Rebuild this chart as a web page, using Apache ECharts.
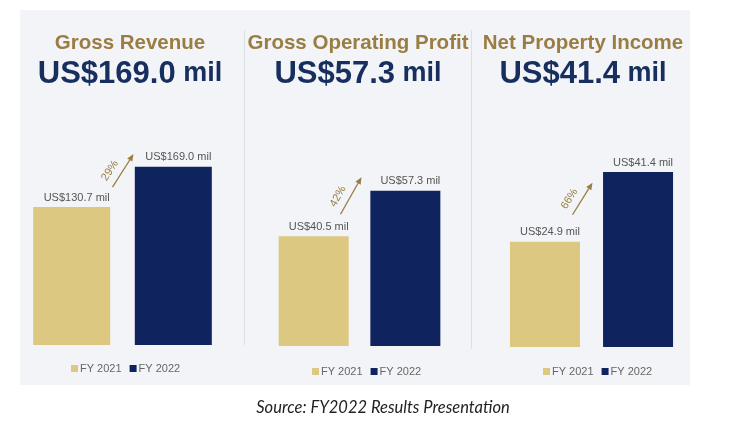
<!DOCTYPE html>
<html lang="en">
<head>
<meta charset="UTF-8">
<title>FY2022 Results</title>
<script src="https://cdn.jsdelivr.net/npm/echarts@6/dist/echarts.min.js"></script>
<style>
  body { margin: 0; background: #ffffff; }
  #main { width: 736px; height: 432px; }
</style>
</head>
<body>
<div id="main"></div>
<script>
// values
var panels = ['Gross Revenue', 'Gross Operating Profit', 'Net Property Income'];
var years = ['FY 2021', 'FY 2022'];
var fy2021 = [130.7, 40.5, 24.9];
var fy2022 = [169.0, 57.3, 41.4];
var growth = ['29%', '42%', '66%'];

// layout per panel
var centers = [130, 358, 583];
var gridLeft = [20, 257, 489];
var gridBottom = [87, 86, 85];
var yMax = [184.8, 72.3, 46.6];
var barW = [77, 70, 70];
var barGap = ['32%', '31%', '33%'];
var legendLeft = [66, 307, 538];
var legendTop = [358, 361, 361];
// arrow: start offset from gap centre / yellow top, then dx, dy
var arrowSet = [[-10, -20, 21, -33], [-19, -22, 21, -37], [-19, -27, 20, -32]];

var gold = '#9a7d42';
var navy = '#172f5e';
var sand = '#dcc881';
var deep = '#0f245f';

var chart = echarts.init(document.getElementById('main'));

var grids = [], xAxes = [], yAxes = [], series = [], titles = [], legends = [];
for (var i = 0; i < panels.length; i++) {
  grids.push({ left: gridLeft[i], width: 205, top: 150, bottom: gridBottom[i] });
  xAxes.push({ type: 'category', gridIndex: i, data: [panels[i]], show: false });
  yAxes.push({ type: 'value', gridIndex: i, min: 0, max: yMax[i], show: false });
  var lbl = {
    show: true, position: 'top', distance: 4, offset: [5, 0],
    color: '#555', fontSize: 11, fontFamily: 'Liberation Sans',
    formatter: function (p) { return 'US$' + p.value.toFixed(1) + ' mil'; }
  };
  series.push({
    name: years[0], type: 'bar', xAxisIndex: i, yAxisIndex: i,
    data: [fy2021[i]], barWidth: barW[i], barGap: barGap[i],
    itemStyle: { color: sand }, label: lbl, silent: true
  });
  series.push({
    name: years[1], type: 'bar', xAxisIndex: i, yAxisIndex: i,
    data: [fy2022[i]], barWidth: barW[i], barGap: barGap[i],
    itemStyle: { color: deep }, label: lbl, silent: true
  });
  titles.push({
    text: '{a|' + panels[i] + '}\n{b|US$' + fy2022[i].toFixed(1) + '}{c| mil}',
    left: centers[i], top: 30, textAlign: 'center', padding: 0,
    textStyle: {
      rich: {
        a: { fontFamily: 'Liberation Sans', fontWeight: 'bold', fontSize: 20.5, color: gold, lineHeight: 26, align: 'center' },
        b: { fontFamily: 'Liberation Sans', fontWeight: 'bold', fontSize: 31, color: navy, lineHeight: 36 },
        c: { fontFamily: 'Liberation Sans', fontWeight: 'bold', fontSize: 27, color: navy, lineHeight: 36 }
      }
    }
  });
  legends.push({
    data: years, left: legendLeft[i], top: legendTop[i],
    icon: 'rect', itemWidth: 7, itemHeight: 7, itemGap: 8,
    selectedMode: false,
    textStyle: { fontFamily: 'Liberation Sans', fontSize: 11, color: '#666', padding: [0, 0, 0, -3] }
  });
}

titles.push({
  text: 'Source: FY2022 Results Presentation',
  left: 383, top: 399, textAlign: 'center', padding: 0,
  textStyle: { fontFamily: 'Lato', fontStyle: 'italic', fontWeight: 'normal', fontSize: 16.5, color: '#222' }
});

var backdrop = [
  { type: 'rect', z: -10, shape: { x: 20, y: 10, width: 670, height: 375 }, style: { fill: '#f2f4f7' } },
  { type: 'line', z: -9, shape: { x1: 244.5, y1: 30, x2: 244.5, y2: 345 }, style: { stroke: '#dcdfe4', lineWidth: 1 } },
  { type: 'line', z: -9, shape: { x1: 471.5, y1: 30, x2: 471.5, y2: 349 }, style: { stroke: '#dcdfe4', lineWidth: 1 } }
];

chart.setOption({
  backgroundColor: '#ffffff',
  animation: false,
  title: titles,
  legend: legends,
  grid: grids,
  xAxis: xAxes,
  yAxis: yAxes,
  series: series,
  graphic: backdrop
});

// growth arrows placed from the bars' pixel positions
var arrows = [];
for (var k = 0; k < panels.length; k++) {
  var mid = chart.convertToPixel({ gridIndex: k }, [0, fy2021[k]]);
  var a = arrowSet[k];
  var x1 = mid[0] + a[0], y1 = mid[1] + a[1];
  var x2 = x1 + a[2], y2 = y1 + a[3];
  var len = Math.sqrt(a[2] * a[2] + a[3] * a[3]);
  var ux = a[2] / len, uy = a[3] / len;
  var nx = uy, ny = -ux; // left-hand normal (up-left)
  var hb = [x2 - ux * 7, y2 - uy * 7];
  arrows.push({
    type: 'line', shape: { x1: x1, y1: y1, x2: hb[0], y2: hb[1] },
    style: { stroke: gold, lineWidth: 1.3 }, silent: true
  });
  arrows.push({
    type: 'polygon',
    shape: { points: [[x2, y2], [hb[0] + nx * 3, hb[1] + ny * 3], [hb[0] - nx * 3, hb[1] - ny * 3]] },
    style: { fill: gold }, silent: true
  });
  var mx = (x1 + x2) / 2 + nx * 11 - ux * 7;
  var my = (y1 + y2) / 2 + ny * 11 - uy * 7;
  arrows.push({
    type: 'text', x: mx, y: my, rotation: Math.atan2(-a[3], a[2]), silent: true,
    style: { text: growth[k], fill: gold, fontSize: 11, fontFamily: 'Liberation Sans', align: 'center', verticalAlign: 'middle' }
  });
}
chart.setOption({ graphic: backdrop.concat(arrows) });
</script>
</body>
</html>
